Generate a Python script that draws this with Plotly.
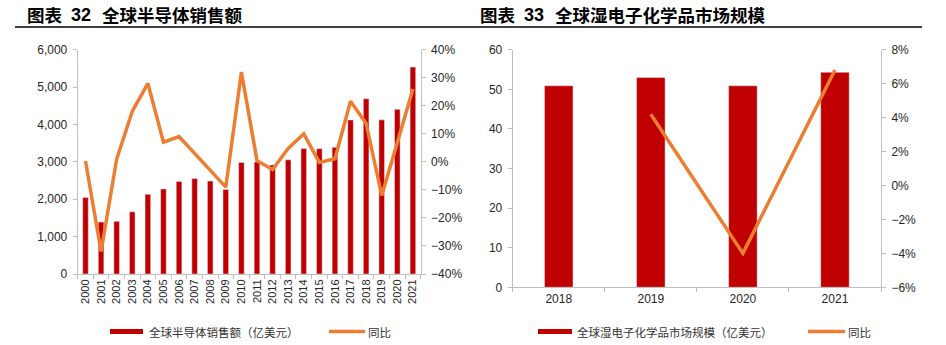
import plotly.graph_objects as go

# ---- Data: chart 32 ----
years32 = [str(y) for y in range(2000, 2022)]
sales32 = [2044, 1390, 1409, 1663, 2130, 2275, 2477, 2556, 2486, 2263, 2983,
           2995, 2916, 3056, 3358, 3352, 3389, 4122, 4688, 4123, 4404, 5535]
yoy32 = [0.003, -0.32, 0.01, 0.18, 0.28, 0.07, 0.09, 0.03, -0.03, -0.09, 0.32,
         0.004, -0.027, 0.048, 0.10, -0.002, 0.011, 0.216, 0.137, -0.12, 0.068, 0.26]

# ---- Data: chart 33 ----
years33 = ["2018", "2019", "2020", "2021"]
market33 = [50.9, 53.0, 50.9, 54.3]
yoy33_x = ["2019", "2020", "2021"]
yoy33 = [0.042, -0.040, 0.068]

title_prefix = "图表"
title32_num = "32"
title32 = "全球半导体销售额"
title33_num = "33"
title33 = "全球湿电子化学品市场规模"
legend32 = ["全球半导体销售额（亿美元）", "同比"]
legend33 = ["全球湿电子化学品市场规模（亿美元）", "同比"]

RED = "#C00000"
ORANGE = "#ED7D31"
AX = "#BFBFBF"
TXT = "#262626"
FONT = "Liberation Sans, Arial, sans-serif"
CJK = "Noto Sans CJK SC"
W, H = 946, 345

fig = go.Figure()
fig.add_trace(go.Bar(x=years32, y=sales32, marker_color=RED, xaxis="x", yaxis="y",
                     showlegend=False))
fig.add_trace(go.Scatter(x=years32, y=yoy32, mode="lines", line=dict(color=ORANGE, width=3.5),
                         xaxis="x", yaxis="y2", showlegend=False))
fig.add_trace(go.Bar(x=years33, y=market33, marker_color=RED, xaxis="x3", yaxis="y3",
                     showlegend=False, width=0.31))
fig.add_trace(go.Scatter(x=yoy33_x, y=yoy33, mode="lines", line=dict(color=ORANGE, width=3.5),
                         xaxis="x3", yaxis="y4", showlegend=False))

def px_x(v):
    return v / W

def px_y(v):
    return 1 - v / H

tickfont = dict(family=FONT, size=12, color=TXT)
common_y = dict(showgrid=False, zeroline=False, showline=True, linecolor=AX, linewidth=1,
                ticks="outside", ticklen=4, tickcolor=AX, tickfont=tickfont, automargin=False,
                ticklabelstandoff=3)

fig.update_layout(
    width=W, height=H, margin=dict(l=0, r=0, t=0, b=0, autoexpand=False),
    paper_bgcolor="white", plot_bgcolor="white",
    bargap=0.64,
    xaxis=dict(domain=[px_x(77.7), px_x(420.7)], anchor="y", type="category",
               showline=True, linecolor=AX, ticks="outside", ticklen=4, tickcolor=AX,
               tickson="boundaries", tickangle=-90, tickfont=dict(family=FONT, size=11, color=TXT),
               showgrid=False, automargin=False),
    yaxis=dict(domain=[px_y(274), px_y(49.7)], anchor="x", range=[0, 6000], dtick=1000,
               tickformat=",", **common_y),
    yaxis2=dict(overlaying="y", side="right", anchor="x", range=[-0.4, 0.4], dtick=0.1,
                tickformat=".0%", **common_y),
    xaxis3=dict(domain=[px_x(512.7), px_x(881)], anchor="y3", type="category",
                showline=True, linecolor=AX, ticks="outside", ticklen=4, tickcolor=AX,
                tickson="boundaries", tickfont=tickfont, showgrid=False, automargin=False),
    yaxis3=dict(domain=[px_y(287.3), px_y(49.7)], anchor="x3", range=[0, 60], dtick=10,
                **common_y),
    yaxis4=dict(overlaying="y3", side="right", anchor="x3", range=[-0.06, 0.08], dtick=0.02,
                tickformat=".0%", **common_y),
)

shapes = []
annotations = []
# title underline
shapes.append(dict(type="line", xref="paper", yref="paper", x0=px_x(15), x1=px_x(922),
                   y0=px_y(27), y1=px_y(27), line=dict(color="black", width=1.5)))

def text(x, y, s, family, size, color, bold=False):
    annotations.append(dict(xref="paper", yref="paper", x=px_x(x), y=px_y(y), xanchor="left",
                            yanchor="middle", showarrow=False,
                            text=f"<b>{s}</b>" if bold else s,
                            font=dict(family=family, size=size, color=color)))

def title(x0, xnum, xt, num, txt):
    text(x0, 15, title_prefix, CJK, 17.5, "black", True)
    text(xnum, 15, num, FONT, 18, "black", True)
    text(xt, 15, txt, CJK, 17.5, "black", True)

title(25, 69, 100, title32_num, title32)
title(478, 522, 553, title33_num, title33)

def legend(rx0, rx1, tx, label, lx0, lx1, lx, label2):
    shapes.append(dict(type="rect", xref="paper", yref="paper", x0=px_x(rx0), x1=px_x(rx1),
                       y0=px_y(334), y1=px_y(329), fillcolor=RED, line=dict(width=0)))
    text(tx, 331.5, label, CJK, 11.5, "#333333")
    shapes.append(dict(type="line", xref="paper", yref="paper", x0=px_x(lx0), x1=px_x(lx1),
                       y0=px_y(331.5), y1=px_y(331.5), line=dict(color=ORANGE, width=3.5)))
    text(lx, 331.5, label2, CJK, 11.5, "#333333")

legend(110, 143, 147, legend32[0], 329, 365, 366, legend32[1])
legend(538, 572, 575, legend33[0], 808, 845, 846, legend33[1])

fig.update_layout(shapes=shapes, annotations=annotations)
fig.write_html("out.html")
